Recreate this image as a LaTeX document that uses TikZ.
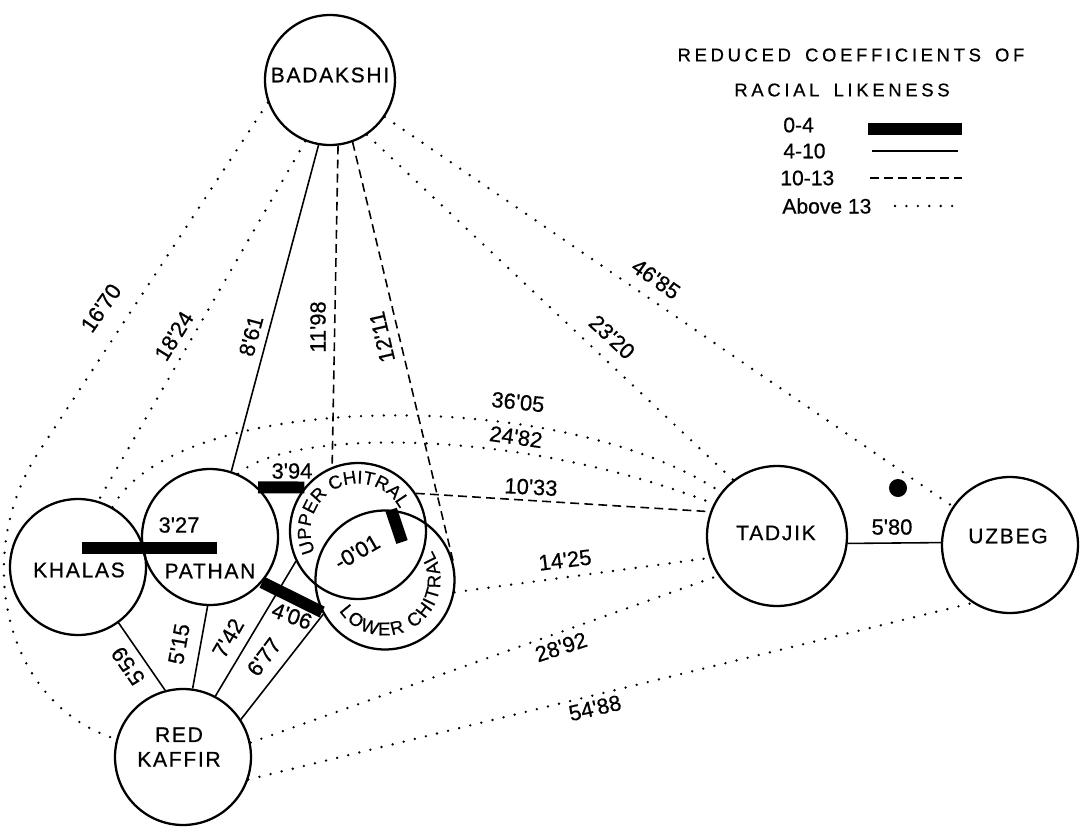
\documentclass[tikz,border=0pt]{standalone}
\usepackage{fontspec}
\usepackage{tikz}
\usetikzlibrary{decorations.text}
\newfontfamily\lettering[LetterSpace=8,FakeBold=0.6]{Liberation Sans}
\newfontfamily\numbering[FakeBold=0.6]{Liberation Sans}
\newfontfamily\headlettering[LetterSpace=20,WordSpace=1.6,FakeBold=0.6]{Liberation Sans}
\tikzset{
tribe/.style={circle, draw, line width=1.3pt, minimum size=2.72cm, inner sep=0pt}, % every group is a ring
tribename/.style={font=\lettering\fontsize{12}{14}\selectfont, inner sep=0pt, align=center},
coeff/.style={font=\numbering\fontsize{12.5}{14}\selectfont, inner sep=1pt}, % numbers on the links
keytext/.style={font=\numbering\fontsize{12}{14}\selectfont, anchor=west, inner sep=0pt},
headtext/.style={font=\headlettering\fontsize{10.5}{12}\selectfont, inner sep=0pt},
thickbar/.style={line width=6.8pt}, % 0-4
thinline/.style={line width=0.9pt}, % 4-10
dashline/.style={line width=0.9pt, dash pattern=on 5pt off 3pt}, % 10-13
dotline/.style={line width=1.5pt, line cap=round, dash pattern=on 0pt off 6.5pt}, % above 13
}

\begin{document}
\begin{tikzpicture}[x=0.02cm, y=-0.02cm]% one unit = one pixel, y downwards
  \useasboundingbox (0,0) rectangle (1086,829);

  % the groups
  \node[tribe, minimum size=2.6cm] (badakshi) at (330,80) {};
  \node[tribe] (khalas) at (78,567) {};
  \node[tribe] (pathan) at (210,537) {};
  \node[tribe] (upchitral) at (358,531) {};
  \node[tribe, minimum size=2.78cm] (lowchitral) at (385,580) {};
  \node[tribe] (redkaffir) at (183,757) {};
  \node[tribe, minimum size=2.8cm] (tadjik) at (777,536) {};
  \node[tribe] (uzbeg) at (1010,545) {};

  \node[tribename] (badakshi-t) at (330,75) {BADAKSHI};
  \node[tribename] (khalas-t) at (79,570) {KHALAS};
  \node[tribename] (pathan-t) at (210,571) {PATHAN};
  \node[tribename] (redkaffir-t) at (179,747) {RED\\KAFFIR};
  \node[tribename] (tadjik-t) at (776,533) {TADJIK};
  \node[tribename] (uzbeg-t) at (1008,536) {UZBEG};

  \path[decorate, decoration={text along path, text align=center,
    text={|\numbering\fontsize{10.5}{12}\selectfont|UPPER CHITRAL}}]
    ([shift={(214:27pt)}]upchitral.center) arc[start angle=214, end angle=20, radius=27pt];
  \path[decorate, decoration={text along path, text align=fit to path,
    text={|\numbering\fontsize{10.5}{12}\selectfont|LOWER CHITRAL}}]
    ([shift={(214:31.5pt)}]lowchitral.center) arc[start angle=214, end angle=392, radius=31.5pt];

  % 0-4
  \draw[thickbar] ([shift={(4,-19)}]khalas.center) -- ([shift={(7,11)}]pathan.center);
  \draw[thickbar] (pathan.46) -- (upchitral.141);
  \draw[thickbar] (pathan.-41) -- (lowchitral.207);
  \draw[thickbar] (lowchitral.85) -- ([shift={(17,-38)}]lowchitral.center);

  % 4-10
  \draw[thinline] (badakshi.-100) -- (pathan.72);
  \draw[thinline] (khalas.-54) -- (redkaffir.105);
  \draw[thinline] (pathan.-92) -- (redkaffir.82);
  \draw[thinline] (upchitral.206) -- (redkaffir.62);
  \draw[thinline] (lowchitral.209) -- (redkaffir.33);
  \draw[thinline] (tadjik.-6) -- (uzbeg.178);

  % 10-13
  \draw[dashline] (badakshi.-83) -- (upchitral.112);
  \draw[dashline] (badakshi.-70) -- (lowchitral.15);
  \draw[dashline] (upchitral.33) -- (tadjik.160);

  % above 13
  \draw[dotline] (badakshi.-160) -- (40,450) .. controls (-30,555) and (5,705) .. (redkaffir.165);
  \draw[dotline] (badakshi.-112) -- (khalas.73);
  \draw[dotline] (khalas.60) .. controls (175,390) and (560,385) .. (tadjik.142);
  \draw[dotline] (pathan.66) .. controls (290,428) and (520,428) .. (tadjik.153);
  \draw[dotline] (badakshi.-56) -- (tadjik.128);
  \draw[dotline] (badakshi.-34) -- (uzbeg.146);
  \draw[dotline] (lowchitral.-10) -- (tadjik.198);
  \draw[dotline] (redkaffir.12) -- (tadjik.214);
  \draw[dotline] (redkaffir.-19) -- (uzbeg.237);
  \fill (898,488) circle (9);

  % coefficients
  \node[coeff, rotate=55] (l1670) at (101,308) {16'70};
  \node[coeff, rotate=58] (l1824) at (174,336) {18'24};
  \node[coeff, rotate=75] (l861) at (251,336) {8'61};
  \node[coeff, rotate=90] (l1198) at (318,327) {11'98};
  \node[coeff, rotate=103] (l1211) at (382,337) {12'11};
  \node[coeff, rotate=-35] (l4685) at (656,279) {46'85};
  \node[coeff, rotate=-43] (l2320) at (612,337) {23'20};
  \node[coeff, rotate=-6] (l3605) at (518,402) {36'05};
  \node[coeff, rotate=-8] (l2482) at (516,437) {24'82};
  \node[coeff, rotate=-3] (l1033) at (531,487) {10'33};
  \node[coeff, rotate=7] (l1425) at (565,560) {14'25};
  \node[coeff, rotate=18] (l2892) at (561,647) {28'92};
  \node[coeff, rotate=13] (l5488) at (595,708) {54'88};
  \node[coeff] (l580) at (892,527) {5'80};
  \node[coeff] (l394) at (292,471) {3'94};
  \node[coeff] (l327) at (179,525) {3'27};
  \node[coeff, rotate=30] (l001) at (357,552) {-0'01};
  \node[coeff, rotate=-20] (l406) at (292,616) {4'06};
  \node[coeff, rotate=80] (l515) at (179,644) {5'15};
  \node[coeff, rotate=60] (l742) at (228,638) {7'42};
  \node[coeff, rotate=53] (l677) at (264,657) {6'77};
  \node[coeff, rotate=125] (l559) at (128,666) {5'59};

  % key
  \node[headtext] (head1) at (851,55) {REDUCED COEFFICIENTS OF};
  \node[headtext] (head2) at (842,90) {RACIAL LIKENESS};
  \node[keytext] (k04) at (783,125) {0-4};
  \node[keytext] (k410) at (783,151) {4-10};
  \node[keytext] (k1013) at (780,178) {10-13};
  \node[keytext] (kabove) at (782,206) {Above 13};
  \draw[thickbar] (868,129) -- (962,129);
  \draw[thinline] (872,151) -- (958,151);
  \draw[dashline] (870,178) -- (962,178);
  \draw[dotline] (895,206) -- (962,206);
\end{tikzpicture}
\end{document}
